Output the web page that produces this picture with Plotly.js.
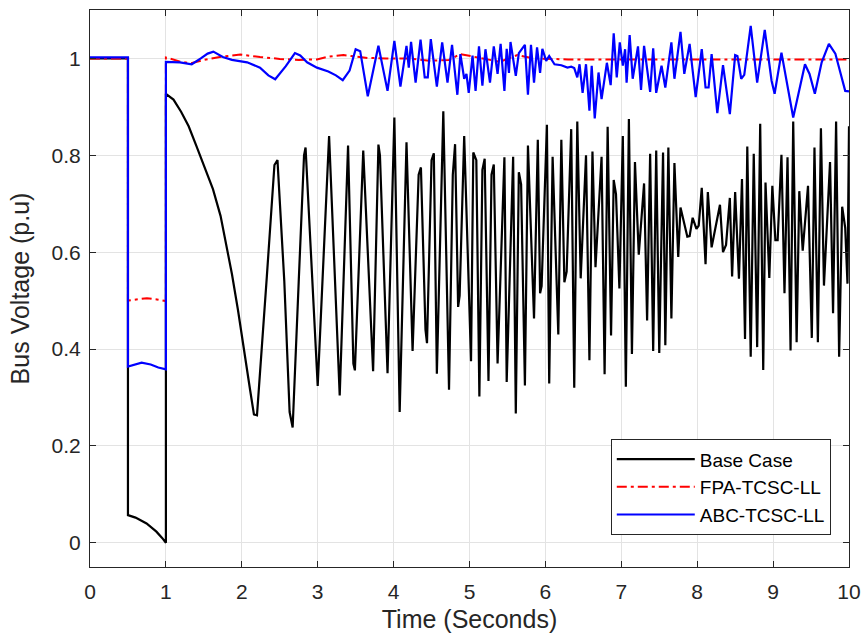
<!DOCTYPE html>
<html>
<head>
<meta charset="utf-8">
<script src="https://cdn.plot.ly/plotly-3.0.1.min.js"></script>
<style>html,body{margin:0;padding:0;background:#fff;}#chart{width:865px;height:636px;}</style>
</head>
<body>
<div id="chart"></div>
<script>
// Base Case
const baseT = [0,0.5,0.5,0.6,0.745,0.875,0.95,1.0,1.0,1.1,1.2,1.3,1.4,1.5,1.62,1.72,1.8,1.87,1.95,2.02,2.11,2.16,2.2,2.33,2.43,2.47,2.56,2.63,2.67,2.75,2.82,2.84,
3.0,3.15,3.29,3.40,3.47,3.49,3.60,3.73,3.80,3.82,3.92,4.01,4.08,4.17,4.25,4.33,4.36,4.42,4.44,4.50,4.53,4.57,4.655,4.73,4.78,4.81,4.85,4.87,4.93,
5.02,5.05,5.09,5.13,5.17,5.20,5.25,5.29,5.32,5.37,5.46,5.49,5.575,5.61,5.65,5.68,5.73,5.77,5.85,5.90,5.93,5.95,6.02,6.05,6.095,6.17,6.21,6.25,6.28,
6.34,6.38,6.42,6.465,6.535,6.58,6.62,6.66,6.74,6.78,6.82,6.865,6.90,6.93,6.975,7.02,7.06,7.10,7.14,7.18,7.23,7.30,7.34,7.38,7.42,7.46,7.50,7.55,
7.58,7.62,7.66,7.70,7.75,7.78,7.83,7.87,7.90,7.94,7.99,8.02,8.06,8.11,8.14,8.19,8.30,8.34,8.38,8.43,8.46,8.50,8.55,8.59,8.63,8.66,8.705,8.745,8.79,
8.83,8.87,8.90,8.95,8.99,9.03,9.06,9.11,9.15,9.19,9.23,9.265,9.31,9.345,9.39,9.46,9.51,9.545,9.59,9.63,9.67,9.75,9.79,9.83,9.87,9.91,9.95,9.98,10.0];
const baseV = [1.0,1.0,0.057,0.052,0.04,0.023,0.01,0.0,0.927,0.915,0.89,0.86,0.82,0.78,0.73,0.675,0.615,0.555,0.48,0.404,0.315,0.265,0.263,0.55,0.78,0.79,0.54,0.27,0.238,0.54,0.80,0.816,
0.324,0.84,0.304,0.82,0.37,0.356,0.81,0.354,0.822,0.80,0.35,0.878,0.27,0.827,0.396,0.76,0.775,0.44,0.412,0.79,0.804,0.349,0.891,0.316,0.76,0.823,0.487,0.51,0.84,
0.375,0.806,0.79,0.302,0.77,0.793,0.334,0.76,0.781,0.37,0.796,0.332,0.797,0.267,0.765,0.74,0.325,0.82,0.463,0.832,0.515,0.53,0.863,0.329,0.797,0.43,0.832,0.538,0.56,
0.854,0.32,0.87,0.546,0.80,0.377,0.808,0.569,0.797,0.348,0.859,0.428,0.749,0.72,0.525,0.84,0.322,0.875,0.39,0.786,0.595,0.742,0.459,0.803,0.396,0.81,0.392,0.806,
0.408,0.816,0.463,0.784,0.59,0.692,0.659,0.632,0.633,0.671,0.648,0.655,0.733,0.575,0.724,0.61,0.698,0.60,0.615,0.712,0.55,0.724,0.545,0.751,0.421,0.818,0.384,0.803,0.404,
0.865,0.357,0.744,0.547,0.737,0.625,0.625,0.801,0.515,0.796,0.397,0.87,0.414,0.726,0.603,0.737,0.423,0.816,0.414,0.856,0.531,0.786,0.474,0.87,0.384,0.694,0.65,0.535,0.86];

// FPA-TCSC-LL
const fpaT = [0,0.5,0.5,0.62,0.75,0.9,1.0,1.0,1.1,1.2,1.33,1.5,1.71,1.98,2.24,2.5,2.75,2.99,3.15,3.34,3.5,3.66,3.9,4.2,4.47,4.73,4.88,5.0,5.15,5.4,5.63,5.85,6.3,7,8,9,10];
const fpaV = [1.0,1.0,0.5,0.503,0.505,0.502,0.499,1.002,0.998,0.993,0.99,0.997,1.003,1.008,1.003,0.999,0.997,0.998,1.004,1.007,1.004,1.001,1.0,1.0,0.995,0.997,1.009,1.005,1.0,0.993,1.007,1.0,0.998,0.998,0.998,0.998,0.998];

// ABC-TCSC-LL
const abcT = [0,0.5,0.5,0.6,0.68,0.8,0.9,1.0,1.0,1.185,1.34,1.46,1.55,1.625,1.75,1.87,2.07,2.24,2.35,2.44,2.58,2.70,2.77,2.86,2.99,3.14,3.24,3.33,3.42,3.50,3.56,3.66,
3.80,3.92,4.01,4.09,4.17,4.20,4.23,4.29,4.355,4.41,4.45,4.49,4.57,4.64,4.71,4.77,4.84,4.88,4.93,4.96,4.99,5.04,5.08,5.125,5.17,5.21,5.27,5.32,5.37,5.41,5.46,5.49,
5.52,5.54,5.61,5.65,5.73,5.77,5.81,5.85,5.89,5.93,5.96,6.01,6.05,6.12,6.21,6.29,6.34,6.38,6.42,6.45,6.49,6.535,6.58,6.61,6.65,6.70,6.74,6.81,6.86,6.90,6.94,6.98,
7.02,7.05,7.07,7.11,7.15,7.22,7.26,7.30,7.38,7.42,7.46,7.53,7.58,7.66,7.70,7.78,7.83,7.90,7.98,8.06,8.11,8.15,8.19,8.265,8.34,8.43,8.50,8.53,8.58,8.62,8.705,8.79,
8.89,8.98,9.02,9.11,9.265,9.42,9.48,9.55,9.64,9.735,9.82,9.95,10.0];
const abcV = [1.002,1.002,0.364,0.368,0.372,0.368,0.362,0.358,0.993,0.992,0.988,1.0,1.01,1.014,1.003,0.997,0.992,0.981,0.965,0.957,0.984,1.011,1.006,0.992,0.981,0.973,0.965,0.955,0.975,1.019,1.015,0.922,
1.026,0.933,1.036,0.942,1.026,0.981,1.034,0.95,1.039,0.961,0.961,1.04,0.942,1.033,0.95,1.028,0.925,1.009,0.958,0.968,0.929,1.006,0.933,1.025,0.944,1.019,0.95,1.025,0.968,1.03,0.933,1.02,
0.97,1.034,0.964,1.011,1.028,0.925,1.028,0.95,1.023,0.97,1.02,0.995,1.005,0.988,0.986,0.981,0.983,0.98,0.961,0.988,0.929,0.988,0.892,0.985,0.876,0.971,0.916,0.991,0.945,1.052,0.961,1.033,
0.985,1.019,0.95,1.048,0.958,1.025,0.935,1.026,0.931,1.021,0.929,0.985,0.94,1.033,0.958,1.055,0.968,1.03,0.92,1.019,0.94,0.94,1.009,0.887,0.986,0.885,1.007,1.005,0.958,0.966,1.067,0.95,
1.059,0.954,0.927,1.012,0.878,0.988,0.968,0.927,0.992,1.03,1.01,0.933,0.932];

const xTicks = [0,1,2,3,4,5,6,7,8,9,10];
const yTicks = [0,0.2,0.4,0.6,0.8,1];

const FONT = 'Liberation Sans, Arial, sans-serif';

const traces = [
  {x: baseT, y: baseV, name: 'Base Case', type: 'scatter', mode: 'lines', line: {color: '#000000', width: 2.2}},
  {x: fpaT, y: fpaV, name: 'FPA-TCSC-LL', type: 'scatter', mode: 'lines', line: {color: '#ff0000', width: 2, dash: '10px,4px,3px,4px'}},
  {x: abcT, y: abcV, name: 'ABC-TCSC-LL', type: 'scatter', mode: 'lines', line: {color: '#0000ff', width: 2.2}}
];

const axisCommon = {
  showline: true, linecolor: '#262626', linewidth: 1, mirror: 'ticks',
  ticks: 'inside', ticklen: 6, tickcolor: '#262626',
  showgrid: true, gridcolor: '#e3e3e3', gridwidth: 1, zeroline: false,
  tickfont: {family: FONT, size: 21, color: '#262626'}
};

const layout = {
  width: 865, height: 636,
  margin: {l: 90, r: 16, t: 10, b: 69},
  paper_bgcolor: '#ffffff', plot_bgcolor: '#ffffff',
  showlegend: true,
  xaxis: Object.assign({}, axisCommon, {
    range: [0, 10], tickvals: xTicks, ticktext: xTicks.map(String),
    ticklabelstandoff: 6,
    title: {text: 'Time (Seconds)', font: {family: FONT, size: 25, color: '#262626'}, standoff: 8}
  }),
  yaxis: Object.assign({}, axisCommon, {
    range: [-0.05, 1.1], tickvals: yTicks, ticktext: yTicks.map(String),
    ticklabelstandoff: 4,
    title: {text: 'Bus Voltage (p.u)', font: {family: FONT, size: 25, color: '#262626'}, standoff: 14}
  }),
  legend: {
    x: 0.976, y: 0.057, xanchor: 'right', yanchor: 'bottom',
    bgcolor: '#ffffff', bordercolor: '#262626', borderwidth: 1,
    font: {family: FONT, size: 19, color: '#000000'},
    itemwidth: 78, tracegroupgap: 0
  }
};

Plotly.newPlot('chart', traces, layout, {displayModeBar: false, staticPlot: true});
</script>
</body>
</html>
